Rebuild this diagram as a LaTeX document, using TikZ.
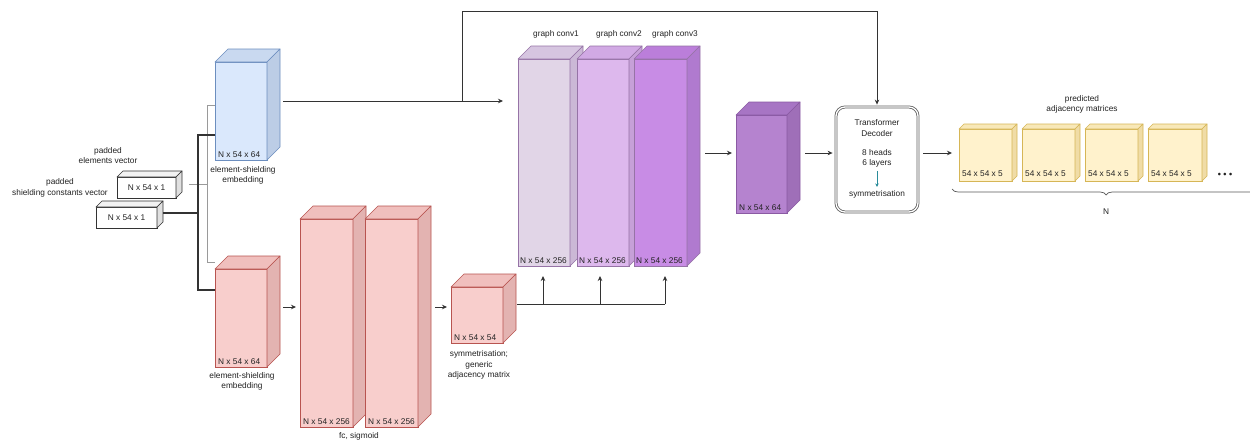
\documentclass[tikz,border=0pt]{standalone}
\usepackage{fontspec}
\setmainfont{Liberation Sans}
\usetikzlibrary{arrows.meta,calc,decorations.pathreplacing}

% stroke / face colours of the cuboids
\definecolor{bluestroke}{HTML}{6C8EBF}\definecolor{bluefrontc}{HTML}{DAE8FC}
\definecolor{bluetopc}{HTML}{C9D9F0}\definecolor{bluesidec}{HTML}{BCCDE6}
\definecolor{redstroke}{HTML}{B85450}\definecolor{redfrontc}{HTML}{F8CECC}
\definecolor{redtopc}{HTML}{F0BFBD}\definecolor{redsidec}{HTML}{E3B3B1}
\definecolor{whitestroke}{HTML}{333333}\definecolor{whitefrontc}{HTML}{FFFFFF}
\definecolor{whitetopc}{HTML}{F2F2F2}\definecolor{whitesidec}{HTML}{E0E0E0}
\definecolor{gcastroke}{HTML}{9673A6}\definecolor{gcafrontc}{HTML}{E1D5E7}
\definecolor{gcatopc}{HTML}{D6C5E0}\definecolor{gcasidec}{HTML}{CBB8D6}
\definecolor{gcbstroke}{HTML}{9673A6}\definecolor{gcbfrontc}{HTML}{DDB8ED}
\definecolor{gcbtopc}{HTML}{D1A9E4}\definecolor{gcbsidec}{HTML}{C6A0D8}
\definecolor{gccstroke}{HTML}{9673A6}\definecolor{gccfrontc}{HTML}{C88CE5}
\definecolor{gcctopc}{HTML}{BB7EDA}\definecolor{gccsidec}{HTML}{B07ACF}
\definecolor{outstroke}{HTML}{8A5AA3}\definecolor{outfrontc}{HTML}{B583CF}
\definecolor{outtopc}{HTML}{A775C4}\definecolor{outsidec}{HTML}{9F6FB8}
\definecolor{yelstroke}{HTML}{D6B656}\definecolor{yelfrontc}{HTML}{FFF2CC}
\definecolor{yeltopc}{HTML}{F8E8B8}\definecolor{yelsidec}{HTML}{F0DCA6}
\definecolor{linec}{HTML}{333333}
\definecolor{thinlinec}{HTML}{9A9A9A}
\definecolor{textc}{HTML}{222222}
\definecolor{tealc}{HTML}{2A8C9A}

\tikzset{
  lbl/.style={font=\fontsize{8.3}{10.5}\selectfont, text=textc, align=center, inner sep=0pt},
  dimlbl/.style={font=\fontsize{8.3}{10}\selectfont, text=textc, inner sep=0pt, anchor=south west},
  arr/.style={draw=linec, line width=0.8pt, -{Stealth[length=5pt,width=4.5pt]}},
  plainline/.style={draw=linec, line width=0.8pt},
  thinline/.style={draw=thinlinec, line width=0.6pt},
  darkline/.style={draw=linec, line width=1.1pt},
}
% one style family per colour scheme
\newcommand{\cubescheme}[1]{%
  \tikzset{
    #1front/.style={draw=#1stroke, fill=#1frontc, line width=0.6pt, inner sep=0pt, outer sep=0pt},
    #1top/.style={draw=#1stroke, fill=#1topc, line width=0.6pt, line join=round},
    #1side/.style={draw=#1stroke, fill=#1sidec, line width=0.6pt, line join=round}}}
\cubescheme{blue}\cubescheme{red}\cubescheme{white}\cubescheme{gca}
\cubescheme{gcb}\cubescheme{gcc}\cubescheme{out}\cubescheme{yel}

% cuboid: name, left, top, right, bottom, depth, colour scheme
\newcommand{\cuboid}[7]{%
  \node[#7front, minimum width={(#4-#2)*1pt}, minimum height={(#5-#3)*1pt}, anchor=north west] (#1) at (#2,#3) {};
  \path[#7top] (#1.north west) -- ++(#6,-#6) -- ++(#4-#2,0) -- (#1.north east) -- cycle;
  \path[#7side] (#1.north east) -- ++(#6,-#6) -- ++(0,#5-#3) -- (#1.south east) -- cycle;
}

\begin{document}
\begin{tikzpicture}[x=1pt,y=-1pt]
\path[use as bounding box, clip] (0,0) rectangle (1250,439);
\fill[white] (0,0) rectangle (1250,439);

% ---------- inputs ----------
\cuboid{vin1}{117}{177}{176}{198}{6}{white}
\node[lbl] (vin1t) at (vin1.center) {N x 54 x 1};
\cuboid{vin2}{96}{207}{157}{228}{6}{white}
\node[lbl] (vin2t) at (vin2.center) {N x 54 x 1};
\node[lbl] (vin1cap) at (108,155.5) {padded\\elements vector};
\node[lbl] (vin2cap) at (60,188) {padded\\shielding constants vector};

% ---------- embeddings ----------
\cuboid{blue}{215}{62}{267}{160}{13}{blue}
\node[dimlbl] (bluet) at ([shift={(3,-2.5)}]blue.south west) {N x 54 x 64};
\node[lbl] (bluecap) at (243,175.5) {element-shielding\\embedding};

\cuboid{red1}{215}{269}{267}{367}{13}{red}
\node[dimlbl] (red1t) at ([shift={(3,-2.5)}]red1.south west) {N x 54 x 64};
\node[lbl] (red1cap) at (242,381.5) {element-shielding\\embedding};

% input wiring
\coordinate (gbus) at (207,184);
\coordinate (dbus) at (198,213);
\draw[thinline] ([shift={(13,-3.5)}]vin1.east) -- (gbus);
\draw[thinline] (blue.west |- 0,105) -| (207,262) -- (red1.west |- 0,262);
\draw[darkline] ([shift={(6,-4.5)}]vin2.east) -- (dbus);
\draw[darkline] (blue.west |- 0,135) -| (198,290) -- (red1.west |- 0,290);

% ---------- fc, sigmoid ----------
\cuboid{fca}{300}{219}{353}{427}{13}{red}
\node[dimlbl] (fcat) at ([shift={(3,-2.5)}]fca.south west) {N x 54 x 256};
\cuboid{fcb}{365}{219}{418}{427}{13}{red}
\node[dimlbl] (fcbt) at ([shift={(3,-2.5)}]fcb.south west) {N x 54 x 256};
\node[lbl] (fccap) at (359,436) {fc, sigmoid};

\cuboid{adj}{451}{287}{503}{343}{13}{red}
\node[dimlbl] (adjt) at ([shift={(3,-2.5)}]adj.south west) {N x 54 x 54};
\node[lbl] (adjcap) at (479,365) {symmetrisation;\\generic\\adjacency matrix};

\draw[arr, shorten <=16pt, shorten >=4pt] (red1.east |- 0,307) -- (fca.west |- 0,307);
\draw[arr, shorten <=17pt, shorten >=4pt] (fcb.east |- 0,307) -- (adj.west |- 0,307);

% ---------- graph convolutions ----------
\cuboid{gc1}{518}{59}{570}{266}{13}{gca}
\node[dimlbl] (gc1t) at ([shift={(2,-2.5)}]gc1.south west) {N x 54 x 256};
\cuboid{gc2}{577}{59}{629}{266}{13}{gcb}
\node[dimlbl] (gc2t) at ([shift={(2,-2.5)}]gc2.south west) {N x 54 x 256};
\cuboid{gc3}{634}{59}{687}{266}{13}{gcc}
\node[dimlbl] (gc3t) at ([shift={(2,-2.5)}]gc3.south west) {N x 54 x 256};
\node[lbl] (gc1cap) at (556,34) {graph conv1};
\node[lbl] (gc2cap) at (619,34) {graph conv2};
\node[lbl] (gc3cap) at (675,34) {graph conv3};

% adjacency matrix fed to every graph convolution
\coordinate (bus) at (0,304);
\coordinate (busend) at (665,304);
\draw[plainline] ([xshift=14pt]adj.east |- bus) -- (busend);
\draw[arr, shorten >=10pt] ([xshift=-1pt]gc1.south |- bus) -- ([xshift=-1pt]gc1.south);
\draw[arr, shorten >=10pt] ([xshift=-3pt]gc2.south |- bus) -- ([xshift=-3pt]gc2.south);
\draw[arr, shorten >=10pt] (busend) -- ([xshift=4.5pt]gc3.south);

% ---------- graph output ----------
\cuboid{gout}{736}{115}{787}{213}{13}{out}
\node[dimlbl] (goutt) at ([shift={(3,-2.5)}]gout.south west) {N x 54 x 64};
\draw[arr, shorten <=18pt, shorten >=4pt] (gc3.east |- 0,153) -- (gout.west |- 0,153);

% ---------- transformer decoder ----------
\node[draw=gray!75!black, double=white, double distance=1.3pt, line width=0.8pt,
      rounded corners=9pt, minimum width=82pt, minimum height=105pt, inner sep=0pt]
      (tdec) at (877,159.5) {};
\node[lbl] (tdtitle) at (877,128) {Transformer\\Decoder};
\node[lbl] (tdparams) at (877,158.5) {8 heads\\6 layers};
\node[lbl] (tdsym) at (877,194) {symmetrisation};
\draw[draw=tealc, line width=0.7pt, -{Stealth[length=3.5pt,width=3.5pt]}]
      ([yshift=-3pt]tdparams.south) -- ([yshift=3pt]tdsym.north);
\draw[arr, shorten <=18pt, shorten >=3pt] (gout.east |- 0,153) -- (tdec.west |- 0,153);

% skip connection from the embedding
\coordinate (skipa) at (462,101);
\coordinate (skipb) at (462,11);
\draw[plainline] ([shift={(16,-10)}]blue.east) -- (skipa);
\draw[arr, shorten >=15pt] (skipa) -- (gc1.west |- skipa);
\draw[arr, shorten >=2pt] (skipa) -- (skipb) -| (tdec.north);

% ---------- predicted adjacency matrices ----------
\cuboid{ya}{959}{129}{1012}{181}{5}{yel}
\node[dimlbl] (yat) at ([shift={(3,-4)}]ya.south west) {54 x 54 x 5};
\cuboid{yb}{1022}{129}{1075}{181}{5}{yel}
\node[dimlbl] (ybt) at ([shift={(3,-4)}]yb.south west) {54 x 54 x 5};
\cuboid{yc}{1085}{129}{1138}{181}{5}{yel}
\node[dimlbl] (yct) at ([shift={(3,-4)}]yc.south west) {54 x 54 x 5};
\cuboid{yd}{1148}{129}{1202}{181}{5}{yel}
\node[dimlbl] (ydt) at ([shift={(3,-4)}]yd.south west) {54 x 54 x 5};
\node[font=\fontsize{9}{10}\selectfont\bfseries, text=textc, inner sep=0pt] (more) at (1225,175) {• • •};
\node[lbl] (ycap) at (1082,104.5) {predicted\\adjacency matrices};

\draw[arr, shorten <=5pt, shorten >=7pt] (tdec.east |- 0,153) -- (ya.west |- 0,153);

% brace spanning the N outputs
\coordinate (brr) at (1300,189);
\coordinate (brl) at (952,189);
\draw[draw=gray!70!black, line width=0.7pt, decorate,
      decoration={brace, amplitude=6pt, aspect=0.557}] (brr) -- (brl);
\node[lbl] (nlbl) at (1106,212) {N};
\end{tikzpicture}
\end{document}
